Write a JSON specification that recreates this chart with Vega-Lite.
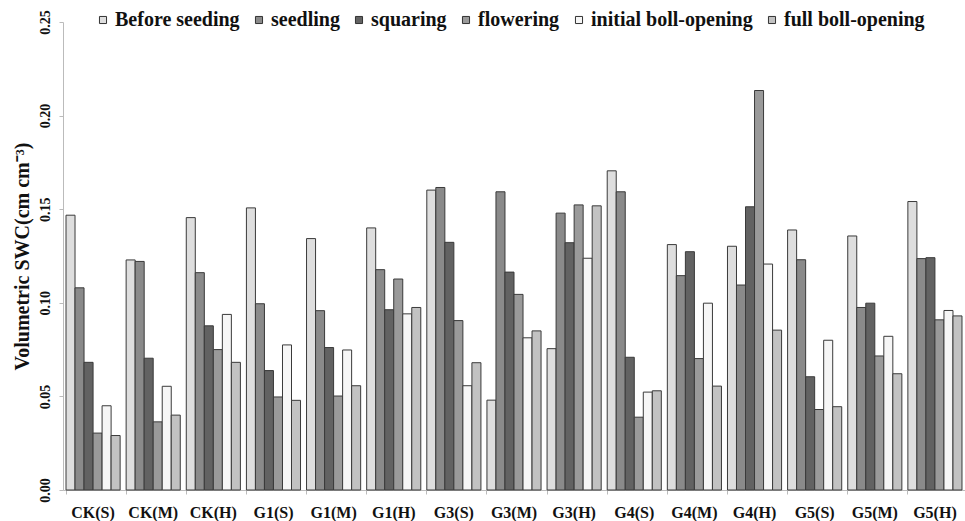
{
  "$schema": "https://vega.github.io/schema/vega-lite/v6.json",
  "width": 902,
  "height": 468,
  "autosize": {"type": "none"},
  "padding": {"left": 63, "top": 22, "right": 0, "bottom": 31},
  "background": "white",
  "config": {
    "view": {"stroke": null},
    "font": "Liberation Serif"
  },
  "datasets": {
    "swc": [
      {"g": "CK(S)", "s": "Before seeding", "v": 0.1468},
      {"g": "CK(S)", "s": "seedling", "v": 0.108},
      {"g": "CK(S)", "s": "squaring", "v": 0.0682},
      {"g": "CK(S)", "s": "flowering", "v": 0.0304},
      {"g": "CK(S)", "s": "initial boll-opening", "v": 0.045},
      {"g": "CK(S)", "s": "full boll-opening", "v": 0.0291},
      {"g": "CK(M)", "s": "Before seeding", "v": 0.1229},
      {"g": "CK(M)", "s": "seedling", "v": 0.1221},
      {"g": "CK(M)", "s": "squaring", "v": 0.0704},
      {"g": "CK(M)", "s": "flowering", "v": 0.0364},
      {"g": "CK(M)", "s": "initial boll-opening", "v": 0.0554},
      {"g": "CK(M)", "s": "full boll-opening", "v": 0.04},
      {"g": "CK(H)", "s": "Before seeding", "v": 0.1455},
      {"g": "CK(H)", "s": "seedling", "v": 0.1161},
      {"g": "CK(H)", "s": "squaring", "v": 0.0877},
      {"g": "CK(H)", "s": "flowering", "v": 0.075},
      {"g": "CK(H)", "s": "initial boll-opening", "v": 0.0938},
      {"g": "CK(H)", "s": "full boll-opening", "v": 0.0682},
      {"g": "G1(S)", "s": "Before seeding", "v": 0.1507},
      {"g": "G1(S)", "s": "seedling", "v": 0.0995},
      {"g": "G1(S)", "s": "squaring", "v": 0.0638},
      {"g": "G1(S)", "s": "flowering", "v": 0.0497},
      {"g": "G1(S)", "s": "initial boll-opening", "v": 0.0775},
      {"g": "G1(S)", "s": "full boll-opening", "v": 0.0479},
      {"g": "G1(M)", "s": "Before seeding", "v": 0.1343},
      {"g": "G1(M)", "s": "seedling", "v": 0.0958},
      {"g": "G1(M)", "s": "squaring", "v": 0.0761},
      {"g": "G1(M)", "s": "flowering", "v": 0.0502},
      {"g": "G1(M)", "s": "initial boll-opening", "v": 0.0748},
      {"g": "G1(M)", "s": "full boll-opening", "v": 0.0557},
      {"g": "G1(H)", "s": "Before seeding", "v": 0.14},
      {"g": "G1(H)", "s": "seedling", "v": 0.1177},
      {"g": "G1(H)", "s": "squaring", "v": 0.0963},
      {"g": "G1(H)", "s": "flowering", "v": 0.1127},
      {"g": "G1(H)", "s": "initial boll-opening", "v": 0.0941},
      {"g": "G1(H)", "s": "full boll-opening", "v": 0.0975},
      {"g": "G3(S)", "s": "Before seeding", "v": 0.1602},
      {"g": "G3(S)", "s": "seedling", "v": 0.1616},
      {"g": "G3(S)", "s": "squaring", "v": 0.1323},
      {"g": "G3(S)", "s": "flowering", "v": 0.0905},
      {"g": "G3(S)", "s": "initial boll-opening", "v": 0.0557},
      {"g": "G3(S)", "s": "full boll-opening", "v": 0.068},
      {"g": "G3(M)", "s": "Before seeding", "v": 0.048},
      {"g": "G3(M)", "s": "seedling", "v": 0.1593},
      {"g": "G3(M)", "s": "squaring", "v": 0.1164},
      {"g": "G3(M)", "s": "flowering", "v": 0.1045},
      {"g": "G3(M)", "s": "initial boll-opening", "v": 0.0813},
      {"g": "G3(M)", "s": "full boll-opening", "v": 0.085},
      {"g": "G3(H)", "s": "Before seeding", "v": 0.0755},
      {"g": "G3(H)", "s": "seedling", "v": 0.1479},
      {"g": "G3(H)", "s": "squaring", "v": 0.1321},
      {"g": "G3(H)", "s": "flowering", "v": 0.1523},
      {"g": "G3(H)", "s": "initial boll-opening", "v": 0.1238},
      {"g": "G3(H)", "s": "full boll-opening", "v": 0.1518},
      {"g": "G4(S)", "s": "Before seeding", "v": 0.1705},
      {"g": "G4(S)", "s": "seedling", "v": 0.1593},
      {"g": "G4(S)", "s": "squaring", "v": 0.0709},
      {"g": "G4(S)", "s": "flowering", "v": 0.0389},
      {"g": "G4(S)", "s": "initial boll-opening", "v": 0.0523},
      {"g": "G4(S)", "s": "full boll-opening", "v": 0.053},
      {"g": "G4(M)", "s": "Before seeding", "v": 0.1311},
      {"g": "G4(M)", "s": "seedling", "v": 0.1145},
      {"g": "G4(M)", "s": "squaring", "v": 0.1273},
      {"g": "G4(M)", "s": "flowering", "v": 0.0702},
      {"g": "G4(M)", "s": "initial boll-opening", "v": 0.0998},
      {"g": "G4(M)", "s": "full boll-opening", "v": 0.0555},
      {"g": "G4(H)", "s": "Before seeding", "v": 0.1302},
      {"g": "G4(H)", "s": "seedling", "v": 0.1095},
      {"g": "G4(H)", "s": "squaring", "v": 0.1513},
      {"g": "G4(H)", "s": "flowering", "v": 0.2134},
      {"g": "G4(H)", "s": "initial boll-opening", "v": 0.1207},
      {"g": "G4(H)", "s": "full boll-opening", "v": 0.0854},
      {"g": "G5(S)", "s": "Before seeding", "v": 0.1389},
      {"g": "G5(S)", "s": "seedling", "v": 0.123},
      {"g": "G5(S)", "s": "squaring", "v": 0.0605},
      {"g": "G5(S)", "s": "flowering", "v": 0.043},
      {"g": "G5(S)", "s": "initial boll-opening", "v": 0.08},
      {"g": "G5(S)", "s": "full boll-opening", "v": 0.0445},
      {"g": "G5(M)", "s": "Before seeding", "v": 0.1357},
      {"g": "G5(M)", "s": "seedling", "v": 0.0975},
      {"g": "G5(M)", "s": "squaring", "v": 0.0998},
      {"g": "G5(M)", "s": "flowering", "v": 0.0716},
      {"g": "G5(M)", "s": "initial boll-opening", "v": 0.0821},
      {"g": "G5(M)", "s": "full boll-opening", "v": 0.0621},
      {"g": "G5(H)", "s": "Before seeding", "v": 0.1541},
      {"g": "G5(H)", "s": "seedling", "v": 0.1236},
      {"g": "G5(H)", "s": "squaring", "v": 0.1241},
      {"g": "G5(H)", "s": "flowering", "v": 0.0909},
      {"g": "G5(H)", "s": "initial boll-opening", "v": 0.0959},
      {"g": "G5(H)", "s": "full boll-opening", "v": 0.093}
    ]
  },
  "data": {"name": "swc"},
  "mark": {"type": "bar", "stroke": "#3a3a3a", "strokeWidth": 1},
  "encoding": {
    "x": {
      "field": "g",
      "type": "nominal",
      "sort": null,
      "scale": {"paddingInner": 0.1, "paddingOuter": 0.05},
      "axis": {
        "title": null,
        "labelAngle": 0,
        "labelFont": "Liberation Serif",
        "labelFontWeight": "bold",
        "labelFontSize": 16,
        "labelColor": "#111",
        "labelPadding": 10,
        "domainColor": "#bbbbbb",
        "tickColor": "#bbbbbb",
        "tickSize": 4,
        "ticks": true,
        "bandPosition": 0
      }
    },
    "xOffset": {
      "field": "s",
      "type": "nominal",
      "sort": ["Before seeding", "seedling", "squaring", "flowering", "initial boll-opening", "full boll-opening"],
      "scale": {"paddingInner": 0, "paddingOuter": 0}
    },
    "y": {
      "field": "v",
      "type": "quantitative",
      "scale": {"domain": [0, 0.25], "nice": false},
      "axis": {
        "values": [0, 0.05, 0.1, 0.15, 0.2, 0.25],
        "format": ".2f",
        "grid": false,
        "title": "Volumetric  SWC(cm cm⁻³)",
        "titleFont": "Liberation Serif",
        "titleFontWeight": "bold",
        "titleFontSize": 20,
        "titleColor": "#111",
        "titlePadding": 6,
        "labelAngle": 270,
        "labelAlign": "center",
        "labelBaseline": "middle",
        "labelFont": "Liberation Serif",
        "labelFontWeight": "bold",
        "labelFontSize": 14,
        "labelColor": "#111",
        "labelPadding": 14,
        "domainColor": "#bbbbbb",
        "tickColor": "#bbbbbb",
        "tickSize": 4
      }
    },
    "fill": {
      "field": "s",
      "type": "nominal",
      "sort": ["Before seeding", "seedling", "squaring", "flowering", "initial boll-opening", "full boll-opening"],
      "scale": {
        "domain": ["Before seeding", "seedling", "squaring", "flowering", "initial boll-opening", "full boll-opening"],
        "range": ["#dedede", "#8a8a8a", "#626262", "#9a9a9a", "#f6f6f6", "#c2c2c2"]
      },
      "legend": {
        "title": null,
        "orient": "none",
        "direction": "horizontal",
        "legendX": 30,
        "legendY": -12,
        "symbolType": "square",
        "symbolSize": 50,
        "symbolStrokeColor": "#333",
        "symbolStrokeWidth": 1,
        "labelFont": "Liberation Serif",
        "labelFontWeight": "bold",
        "labelFontSize": 20,
        "labelColor": "#111",
        "labelOffset": 2,
        "columnPadding": 9,
        "labelLimit": 300
      }
    }
  }
}
